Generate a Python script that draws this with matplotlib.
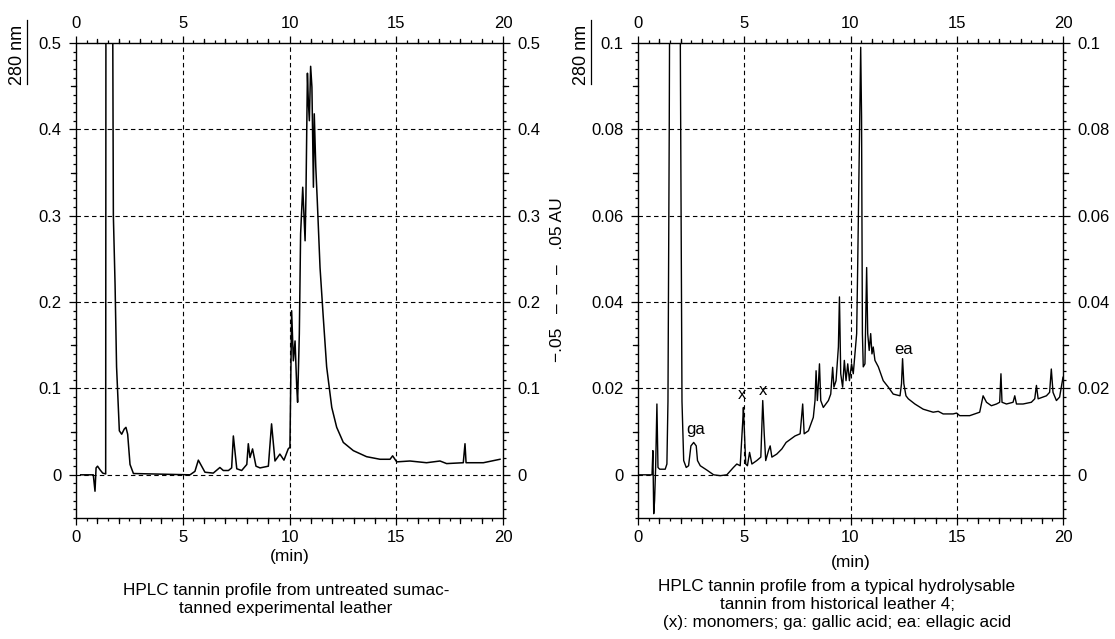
import matplotlib
matplotlib.use("Agg")
import matplotlib.pyplot as plt
from matplotlib.ticker import MultipleLocator, FixedLocator
from matplotlib.lines import Line2D

plt.rcParams['font.family'] = ['Liberation Sans', 'DejaVu Sans']

# ---- left chromatogram: untreated sumac-tanned leather ----
left_t = [0.22, 0.81, 0.89, 0.94, 1.01, 1.12, 1.25, 1.39, 1.41, 1.44, 1.59, 1.67, 1.75, 1.83,
          1.90, 2.03, 2.14, 2.26, 2.34, 2.42, 2.53, 2.69, 5.34, 5.57, 5.73, 6.04, 6.43, 6.74,
          6.90, 7.14, 7.29, 7.37, 7.53, 7.76, 8.00, 8.07, 8.15, 8.27, 8.43, 8.62, 9.01, 9.16,
          9.32, 9.55, 9.74, 9.94, 10.02, 10.10, 10.18, 10.26, 10.34, 10.38, 10.46, 10.52,
          10.62, 10.73, 10.77, 10.84, 10.88, 10.93, 10.99, 11.05, 11.12, 11.16, 11.23, 11.30,
          11.43, 11.58, 11.74, 11.98, 12.21, 12.52, 12.99, 13.61, 14.24, 14.71, 14.83, 15.02,
          15.64, 16.42, 17.05, 17.36, 18.14, 18.22, 18.27, 19.08, 19.86]
left_a = [0.0, 0.0, -0.019, 0.008, 0.010, 0.006, 0.002, 0.001, 0.9, 0.9, 0.9, 0.9, 0.30, 0.22,
          0.125, 0.051, 0.047, 0.053, 0.055, 0.047, 0.012, 0.0015, 0.0, 0.004, 0.017, 0.003,
          0.002, 0.0085, 0.005, 0.005, 0.008, 0.045, 0.007, 0.005, 0.012, 0.036, 0.020, 0.030,
          0.010, 0.008, 0.010, 0.059, 0.016, 0.024, 0.017, 0.030, 0.032, 0.190, 0.132, 0.155,
          0.101, 0.084, 0.163, 0.279, 0.333, 0.271, 0.322, 0.465, 0.434, 0.410, 0.473, 0.449,
          0.333, 0.418, 0.357, 0.318, 0.240, 0.183, 0.125, 0.078, 0.055, 0.0375, 0.028, 0.021,
          0.018, 0.018, 0.022, 0.015, 0.016, 0.014, 0.016, 0.013, 0.014, 0.036, 0.014, 0.014,
          0.018]

# ---- right chromatogram: historical leather 4 ----
right_t = [0.0, 0.66, 0.70, 0.74, 0.78, 0.83, 0.89, 0.94, 1.02, 1.28, 1.36, 1.41, 1.47, 1.55,
           1.68, 1.91, 2.00, 2.07, 2.15, 2.27, 2.38, 2.49, 2.62, 2.74, 2.80, 2.93, 3.24, 3.56,
           3.87, 4.18, 4.49, 4.65, 4.81, 4.93, 4.96, 5.01, 5.07, 5.15, 5.25, 5.36, 5.59, 5.78,
           5.87, 5.94, 6.01, 6.14, 6.22, 6.30, 6.53, 6.77, 6.97, 7.08, 7.39, 7.63, 7.75, 7.82,
           8.02, 8.25, 8.33, 8.38, 8.44, 8.49, 8.54, 8.60, 8.72, 8.96, 9.07, 9.16, 9.22, 9.32,
           9.43, 9.48, 9.54, 9.63, 9.71, 9.79, 9.87, 9.95, 10.05, 10.13, 10.21, 10.29, 10.34,
           10.38, 10.43, 10.48, 10.52, 10.56, 10.60, 10.68, 10.76, 10.81, 10.88, 10.95, 11.01,
           11.07, 11.15, 11.31, 11.54, 11.78, 12.01, 12.33, 12.40, 12.45, 12.51, 12.61, 12.72,
           13.03, 13.42, 13.89, 14.13, 14.36, 14.83, 14.99, 15.14, 15.61, 16.08, 16.24, 16.40,
           16.63, 16.87, 17.02, 17.08, 17.13, 17.34, 17.65, 17.73, 17.81, 18.12, 18.51, 18.67,
           18.75, 18.83, 19.22, 19.37, 19.45, 19.53, 19.69, 19.84, 20.0]
right_a = [0.0, 0.0, 0.0056, -0.009, -0.006, 0.0017, 0.0164, 0.0017, 0.0013, 0.0013, 0.0025,
           0.017, 0.08, 0.2, 0.2, 0.2, 0.09, 0.017, 0.0033, 0.0017, 0.0021, 0.0067, 0.0075,
           0.0067, 0.0033, 0.0021, 0.0011, 0.0, -0.0002, 0.0, 0.0017, 0.0025, 0.0021, 0.0125,
           0.0156, 0.0095, 0.0025, 0.0021, 0.0052, 0.0025, 0.0033, 0.0041, 0.0172, 0.0095,
           0.0033, 0.0056, 0.0067, 0.0041, 0.0048, 0.006, 0.0075, 0.0079, 0.009, 0.0095, 0.0164,
           0.0095, 0.0102, 0.0133, 0.0172, 0.0241, 0.0172, 0.0211, 0.0257, 0.0172, 0.0156,
           0.0172, 0.0187, 0.0249, 0.0203, 0.0218, 0.0296, 0.0412, 0.0234, 0.0203, 0.0265,
           0.0218, 0.0257, 0.0218, 0.0257, 0.0234, 0.028, 0.0327, 0.0489, 0.0636, 0.0806,
           0.099, 0.083, 0.0327, 0.025, 0.0257, 0.048, 0.0327, 0.0288, 0.0327, 0.0280, 0.0296,
           0.0265, 0.025, 0.0218, 0.0203, 0.0187, 0.0183, 0.0211, 0.0269, 0.0211, 0.0183,
           0.0176, 0.0164, 0.0152, 0.0145, 0.0147, 0.0141, 0.0141, 0.0143, 0.0137, 0.0137,
           0.0145, 0.0183, 0.0168, 0.016, 0.0164, 0.0168, 0.0234, 0.0168, 0.0164, 0.0168,
           0.0183, 0.0164, 0.0164, 0.0168, 0.0176, 0.0207, 0.0176, 0.0183, 0.0191, 0.0245,
           0.0191, 0.0172, 0.018, 0.0226]

left_yticks = [0, 0.1, 0.2, 0.3, 0.4, 0.5]
left_ylabels = ['0', '0.1', '0.2', '0.3', '0.4', '0.5']
right_yticks = [0, 0.02, 0.04, 0.06, 0.08, 0.1]
right_ylabels = ['0', '0.02', '0.04', '0.06', '0.08', '0.1']
xticks = [0, 5, 10, 15, 20]

annot_text = ['ga', 'x', 'x', 'ea']
annot_t = [2.7, 4.9, 5.9, 12.5]
annot_a = [0.0106, 0.0185, 0.0195, 0.029]

captions = ["HPLC tannin profile from untreated sumac-\ntanned experimental leather",
            "HPLC tannin profile from a typical hydrolysable\ntannin from historical leather 4;\n"
            "(x): monomers; ga: gallic acid; ea: ellagic acid"]

W, H = 1115, 639
fig = plt.figure(figsize=(W / 100, H / 100), dpi=100)

def px_axes(x0, x1, y0, y1):
    return fig.add_axes([x0 / W, 1 - y1 / H, (x1 - x0) / W, (y1 - y0) / H])

axL = px_axes(76, 503, 43, 518)
axR = px_axes(638, 1063, 43, 518)

def side_ticks(ax, vals, axis, length_px):
    for v in vals:
        if axis == 'y':
            tr = ax.get_yaxis_transform()
            w = length_px / ax.bbox.width
            for xx, sgn in ((0, -1), (1, 1)):
                ax.add_line(Line2D([xx, xx + sgn * w], [v, v], transform=tr,
                                   color='black', lw=0.9, clip_on=False))
        else:
            tr = ax.get_xaxis_transform()
            h = length_px / ax.bbox.height
            for yy, sgn in ((0, -1), (1, 1)):
                ax.add_line(Line2D([v, v], [yy, yy + sgn * h], transform=tr,
                                   color='black', lw=0.9, clip_on=False))

def style(ax, yticks, ylabels, ylim, yminor, ymed, xlabpad):
    ax.set_xlim(0, 20)
    ax.set_ylim(*ylim)
    for t in [5, 10, 15]:
        ax.axvline(t, color='black', lw=0.8, ls=(0, (4, 3)), zorder=1)
    for v in yticks[:-1]:
        ax.axhline(v, color='black', lw=0.8, ls=(0, (4, 3)), zorder=1)
    ax.xaxis.set_major_locator(FixedLocator(xticks))
    ax.xaxis.set_minor_locator(MultipleLocator(0.5))
    ax.set_xticklabels([str(t) for t in xticks])
    ax.yaxis.set_major_locator(FixedLocator(yticks))
    ax.set_yticklabels(ylabels)
    ax.yaxis.set_minor_locator(MultipleLocator(yminor))
    ax.tick_params(which='both', direction='out', top=True, right=True,
                   labeltop=True, labelright=True, labelsize=12, width=0.9, color='black')
    ax.tick_params(which='major', length=5)
    ax.tick_params(which='minor', length=2.2)
    ax.tick_params(axis='y', which='major', pad=5.5)
    ax.tick_params(axis='x', which='major', pad=4)
    for s in ax.spines.values():
        s.set_linewidth(1.0)
    # medium ticks
    n = int(round(ylim[1] / ymed))
    med_y = [i * ymed for i in range(n + 1)]
    med_y = [v for v in med_y if min(abs(v - t) for t in yticks) > 1e-6]
    side_ticks(ax, med_y, 'y', 5)
    med_x = [float(i) for i in range(21) if i % 5 != 0]
    side_ticks(ax, med_x, 'x', 4.5)
    ax.set_xlabel('(min)', fontsize=12.5, labelpad=xlabpad)

style(axL, left_yticks, left_ylabels, (-0.05, 0.5), 0.01, 0.05, 2.5)
style(axR, right_yticks, right_ylabels, (-0.01, 0.1), 0.002, 0.01, 7)

axL.plot(left_t, left_a, color='black', lw=1.1, zorder=3)
axR.plot(right_t, right_a, color='black', lw=1.0, zorder=3)

for s, t, a in zip(annot_text, annot_t, annot_a):
    axR.text(t, a, s, fontsize=12, ha='center', va='center')

# "280 nm" labels
for xpx in (18, 582):
    fig.text(xpx / W, 1 - 55 / H, '280 nm', rotation=90, fontsize=13,
             ha='center', va='center')
    fig.add_artist(Line2D([(xpx + 9) / W, (xpx + 9) / W], [1 - 20 / H, 1 - 84 / H],
                          color='black', lw=0.9))

fig.text(558 / W, 1 - 280 / H, '\u2212.05   \u2013  \u2013  \u2013   .05 AU', rotation=90,
         fontsize=12.5, ha='center', va='center')

fig.text(286 / W, 1 - 599.5 / H, captions[0], ha='center', va='center', fontsize=12.3,
         linespacing=1.32)
fig.text(837 / W, 1 - 604.5 / H, captions[1], ha='center', va='center', fontsize=12.3,
         linespacing=1.22)

fig.savefig('out.png', dpi=100)
